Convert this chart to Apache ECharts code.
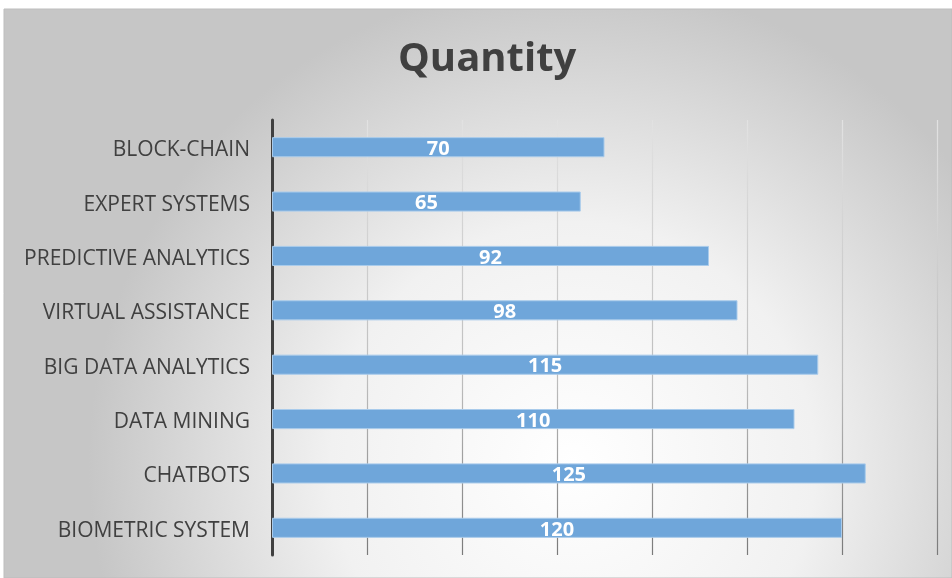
<!DOCTYPE html>
<html>
<head>
<meta charset="utf-8">
<style>html,body{margin:0;padding:0;background:#fff;}#c{width:952px;height:578px;}</style>
<script src="https://cdn.jsdelivr.net/npm/echarts@6/dist/echarts.min.js"></script>
</head>
<body>
<div id="c"></div>
<script>
const categories = ['BIOMETRIC SYSTEM','CHATBOTS','DATA MINING','BIG DATA ANALYTICS','VIRTUAL ASSISTANCE','PREDICTIVE ANALYTICS','EXPERT SYSTEMS','BLOCK-CHAIN'];
const values = [120,125,110,115,98,92,65,70];
const chart = echarts.init(document.getElementById('c'));
chart.setOption({
  animation:false,
  graphic:[
    {type:'rect',z:-10,silent:true,shape:{x:4,y:9,width:948,height:569},
     style:{fill:{type:'radial',x:0.6,y:0.8,r:0.85,colorStops:[{offset:0,color:'#ffffff'},{offset:0.5,color:'#f1f1f1'},{offset:1,color:'#c6c6c6'}]},stroke:'#bdbdbd',lineWidth:1}}
  ],
  title:{text:'Quantity',top:35,left:393,textStyle:{fontFamily:'Open Sans',fontWeight:'bold',fontSize:40,color:'#404040'}},
  grid:{left:272,right:15,top:120,bottom:23,containLabel:false},
  xAxis:{type:'value',min:0,max:140,interval:20,axisLabel:{show:false},axisLine:{show:false},axisTick:{show:false},
    splitLine:{show:true,lineStyle:{width:1.2,color:{type:'linear',x:0,y:120,x2:0,y2:555,global:true,colorStops:[{offset:0,color:'#e2e2e2'},{offset:0.6,color:'#bdbdbd'},{offset:1,color:'#7a7a7a'}]}}}},
  yAxis:{type:'category',data:categories,axisLine:{show:true,lineStyle:{color:'#404040',width:3}},axisTick:{show:false},
    axisLabel:{margin:22,formatter:function(v){return '{a|'+v+'}';},
      rich:{a:{fontFamily:'Open Sans',fontSize:21,color:'#404040',padding:[6,0,0,0]}}}},
  series:[{type:'bar',data:values,barWidth:'37%',
    itemStyle:{color:'#6fa6da',borderColor:'#a9cbeb',borderWidth:1},
    label:{show:true,position:'inside',offset:[0,2],color:'#ffffff',fontFamily:'Open Sans',fontWeight:'bold',fontSize:20}}]
});
</script>
</body>
</html>
